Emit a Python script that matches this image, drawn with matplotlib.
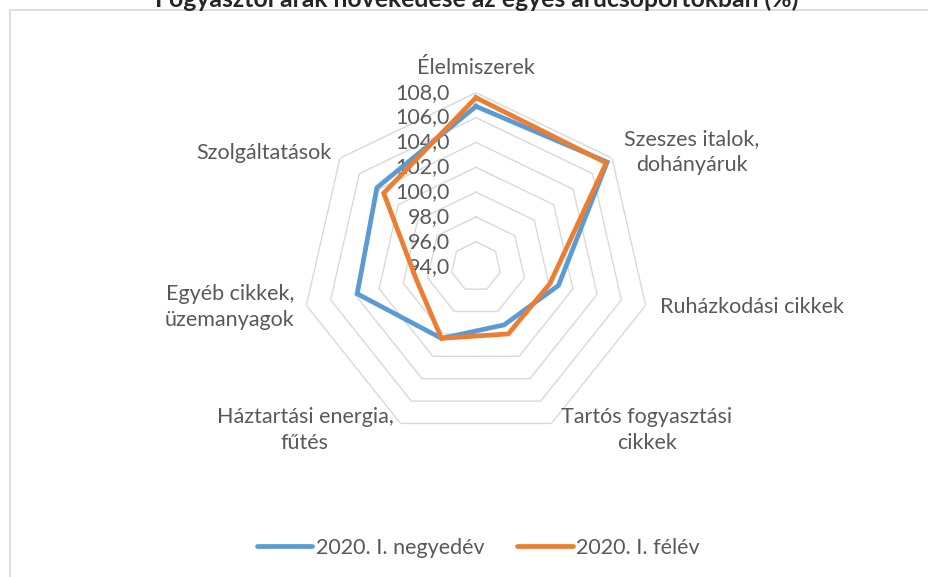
import numpy as np
import matplotlib
matplotlib.use('Agg')
import matplotlib.pyplot as plt
import matplotlib.transforms as mtransforms
from matplotlib.lines import Line2D
from matplotlib.patches import Rectangle

plt.rcParams['font.family'] = ['Lato', 'DejaVu Sans']

# data
categories = ['Élelmiszerek', 'Szeszes italok,\ndohányáruk', 'Ruházkodási cikkek',
              'Tartós fogyasztási\ncikkek', 'Háztartási energia,\nfűtés',
              'Egyéb cikkek,\nüzemanyagok', 'Szolgáltatások']
q1_2020 = [106.9, 107.5, 100.8, 99.2, 100.4, 103.8, 104.2]
h1_2020 = [107.6, 107.4, 100.1, 100.0, 100.4, 98.9, 103.5]
series_names = ['2020. I. negyedév', '2020. I. félév']
r_ticks = [94, 96, 98, 100, 102, 104, 106, 108]

BLUE = '#5B9BD5'
ORANGE = '#ED7D31'
GRID = '#D9D9D9'
TXT = '#595959'

W, H = 929, 577
fig = plt.figure(figsize=(W / 100, H / 100), dpi=100)

# outer chart frame
fig.patches.append(Rectangle((10 / W, -0.1), 1.2, 1 - 10 / H + 0.1, transform=fig.transFigure,
                             fill=False, edgecolor=GRID, lw=1.2))

# title sits partly above the top edge, as in the source image
fig.text(477 / W, 1 - 7 / H, 'Fogyasztói árak növekedése az egyes árucsoportokban (%)',
         ha='center', va='baseline', fontsize=17.8, fontweight='bold', color='#262626')

# polar axes: centre at (476, 266.7) px, radius 174 px
cx, cy, R = 476, 266.7, 174
ax = fig.add_axes([(cx - R) / W, (H - cy - R) / H, 2 * R / W, 2 * R / H], projection='polar')
ax.set_theta_offset(np.pi / 2)
ax.set_theta_direction(-1)
ax.set_ylim(r_ticks[0], r_ticks[-1])
ax.grid(False)
ax.spines['polar'].set_visible(False)
ax.set_xticks([])
ax.set_yticks([])
ax.patch.set_alpha(0)

n = len(categories)
angles = np.linspace(0, 2 * np.pi, n, endpoint=False)
ang_closed = np.append(angles, angles[0])

# heptagon grid rings
for r in r_ticks[1:]:
    ax.plot(ang_closed, [r] * (n + 1), color=GRID, lw=1.0, zorder=1)

for vals, col in [(q1_2020, BLUE), (h1_2020, ORANGE)]:
    ax.plot(ang_closed, list(vals) + [vals[0]], color=col, lw=3.4, zorder=3,
            solid_joinstyle='miter')

# radial value labels
off = mtransforms.offset_copy(ax.transData, fig=fig, x=-26, y=0, units='dots')
for r in r_ticks:
    ax.text(0, r, f'{r:.1f}'.replace('.', ','), transform=off, ha='right', va='center',
            fontsize=15.5, color=TXT, zorder=2)

# category labels (pixel positions of label centres)
label_pos = [(476, 68, 'center'), (692, 152, 'center'), (660, 307, 'left'),
             (647, 430, 'center'), (305, 430, 'center'), (230, 307, 'center'),
             (332, 153, 'right')]
for name, (x, y, ha) in zip(categories, label_pos):
    fig.text(x / W, 1 - y / H, name, ha=ha, va='center', fontsize=15.5, color=TXT,
             multialignment='center', linespacing=1.4)

handles = [Line2D([], [], color=BLUE, lw=3.4, solid_capstyle='round'),
           Line2D([], [], color=ORANGE, lw=3.4, solid_capstyle='round')]
fig.legend(handles, series_names, loc='center', bbox_to_anchor=(478 / W, 1 - 548 / H),
           ncol=2, frameon=False, fontsize=15.5, labelcolor=TXT,
           handlelength=2.6, handletextpad=0.15, columnspacing=1.5)

fig.savefig('out.png', dpi=100)
